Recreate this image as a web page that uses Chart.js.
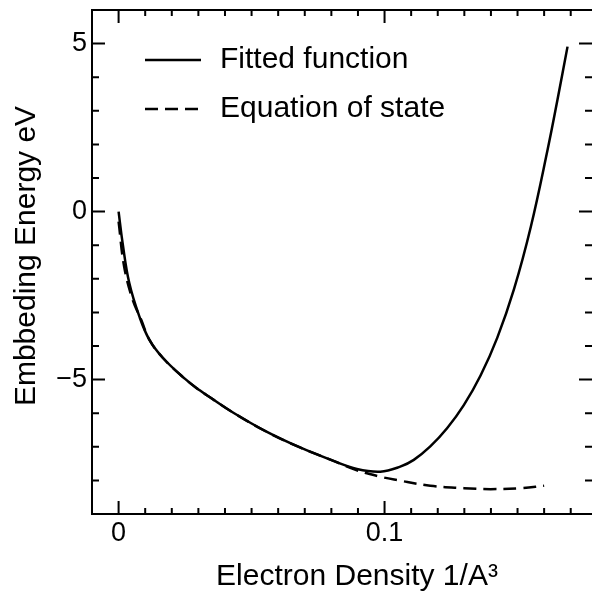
<!DOCTYPE html>
<html lang="en">
<head>
    <meta charset="UTF-8" />
    <title>Embedding Energy</title>
    <script src="https://cdn.jsdelivr.net/npm/chart.js"></script>
    <style>
        body { margin: 0; background: #fff; }
        canvas { display: block; }
    </style>
</head>
<body>
<canvas id="chart" width="592" height="597"></canvas>

<script>
    // data
    const fitX = [0, 0.0015, 0.004, 0.0078, 0.0116, 0.0166, 0.025, 0.0305, 0.0342, 0.043, 0.0556, 0.0682, 0.0808, 0.0896, 0.0984, 0.1059, 0.111, 0.1172, 0.1235, 0.1298, 0.1361, 0.1424, 0.1487, 0.155, 0.1613, 0.165, 0.1688];
    const fitY = [0, -0.93, -2.12, -3.12, -3.82, -4.35, -4.98, -5.32, -5.52, -5.98, -6.55, -7.02, -7.42, -7.66, -7.74, -7.59, -7.39, -6.99, -6.45, -5.76, -4.88, -3.75, -2.30, -0.45, 1.84, 3.32, 4.91];

    const eosX = [0, 0.0021, 0.0053, 0.0085, 0.0116, 0.0166, 0.025, 0.0305, 0.0342, 0.043, 0.0556, 0.0682, 0.0808, 0.0896, 0.0984, 0.1047, 0.1172, 0.1298, 0.1399, 0.1512, 0.16];
    const eosY = [-0.3, -1.64, -2.63, -3.22, -3.82, -4.35, -4.98, -5.32, -5.52, -5.98, -6.55, -7.02, -7.42, -7.70, -7.89, -7.99, -8.16, -8.23, -8.26, -8.23, -8.16];

    const seriesNames = ["Fitted function", "Equation of state"];

    const xTicks = [0, 0.1];
    const xTickLabels = ["0", "0.1"];
    const xMinor = [0.01, 0.02, 0.03, 0.04, 0.05, 0.06, 0.07, 0.08, 0.09, 0.11, 0.12, 0.13, 0.14, 0.15, 0.16, 0.17];
    const yTicks = [-5, 0, 5];
    const yTickLabels = ["\u22125", "0", "5"];
    const yMinor = [-8, -7, -6, -4, -3, -2, -1, 1, 2, 3, 4];

    const xTitle = "Electron Density 1/A\u00B3";
    const yTitle = "Embbeding Energy eV";

    const toPoints = (xs, ys) => xs.map((x, i) => ({ x: x, y: ys[i] }));
    const FONT = "'Liberation Sans', Arial, sans-serif";

    // box, inward ticks, legend and axis titles
    const framePlugin = {
        id: "frame",
        afterDraw(chart) {
            const ctx = chart.ctx;
            const a = chart.chartArea;
            const sx = chart.scales.x, sy = chart.scales.y;
            ctx.save();
            ctx.strokeStyle = "#000";
            ctx.lineWidth = 2;
            ctx.beginPath();
            ctx.moveTo(a.right, a.top);
            ctx.lineTo(a.left, a.top);
            ctx.lineTo(a.left, a.bottom);
            ctx.lineTo(a.right, a.bottom);
            ctx.stroke();

            function xTick(v, len) {
                const p = sx.getPixelForValue(v);
                ctx.moveTo(p, a.bottom); ctx.lineTo(p, a.bottom - len);
                ctx.moveTo(p, a.top); ctx.lineTo(p, a.top + len);
            }
            function yTick(v, len) {
                const p = sy.getPixelForValue(v);
                ctx.moveTo(a.left, p); ctx.lineTo(a.left + len, p);
                ctx.moveTo(a.right, p); ctx.lineTo(a.right - len, p);
            }
            ctx.beginPath();
            xTicks.forEach(v => xTick(v, 13));
            xMinor.forEach(v => xTick(v, 6));
            yTicks.forEach(v => yTick(v, 13));
            yMinor.forEach(v => yTick(v, 7));
            ctx.stroke();

            // legend
            ctx.lineWidth = 2.5;
            const rows = [60, 109];
            chart.data.datasets.forEach((ds, i) => {
                ctx.setLineDash(ds.borderDash || []);
                ctx.beginPath();
                ctx.moveTo(145, rows[i]);
                ctx.lineTo(201, rows[i]);
                ctx.stroke();
            });
            ctx.setLineDash([]);
            ctx.fillStyle = "#000";
            ctx.font = "30px " + FONT;
            ctx.textAlign = "left";
            ctx.textBaseline = "middle";
            chart.data.datasets.forEach((ds, i) => {
                ctx.fillText(ds.label, 220, rows[i]);
            });

            // axis titles
            ctx.font = "30px " + FONT;
            ctx.textAlign = "center";
            ctx.textBaseline = "alphabetic";
            ctx.fillText(xTitle, 357, 585);
            ctx.translate(35, 256);
            ctx.rotate(-Math.PI / 2);
            ctx.fillText(yTitle, 0, 0);
            ctx.restore();
        }
    };

    new Chart(document.getElementById("chart"), {
        type: "line",
        data: {
            datasets: [{
                label: seriesNames[0],
                data: toPoints(fitX, fitY),
                borderColor: "#000",
                borderWidth: 2.5,
                pointRadius: 0,
                tension: 0.4,
                fill: false
            }, {
                label: seriesNames[1],
                data: toPoints(eosX, eosY),
                borderColor: "#000",
                borderWidth: 2.5,
                borderDash: [13, 7],
                pointRadius: 0,
                tension: 0.4,
                fill: false
            }]
        },
        options: {
            responsive: false,
            animation: false,
            layout: { padding: { top: 10, right: 0, left: 0, bottom: 0 } },
            plugins: { legend: { display: false }, tooltip: { enabled: false } },
            scales: {
                x: {
                    type: "linear",
                    min: -0.01,
                    max: 0.178,
                    grid: { display: false, drawTicks: false },
                    border: { display: false },
                    afterFit: s => { s.height = 83; s.paddingLeft = 0; s.paddingRight = 0; },
                    afterBuildTicks: s => { s.ticks = xTicks.map(v => ({ value: v })); },
                    ticks: {
                        color: "#000",
                        font: { family: FONT, size: 27 },
                        padding: 3,
                        maxRotation: 0,
                        callback: v => xTickLabels[xTicks.indexOf(v)]
                    }
                },
                y: {
                    min: -9,
                    max: 6,
                    grid: { display: false, drawTicks: false },
                    border: { display: false },
                    afterFit: s => { s.width = 92; s.paddingTop = 0; s.paddingBottom = 0; },
                    afterBuildTicks: s => { s.ticks = yTicks.map(v => ({ value: v })); },
                    ticks: {
                        color: "#000",
                        font: { family: FONT, size: 27 },
                        padding: 5,
                        callback: v => yTickLabels[yTicks.indexOf(v)]
                    }
                }
            }
        },
        plugins: [framePlugin]
    });
</script>
</body>
</html>
